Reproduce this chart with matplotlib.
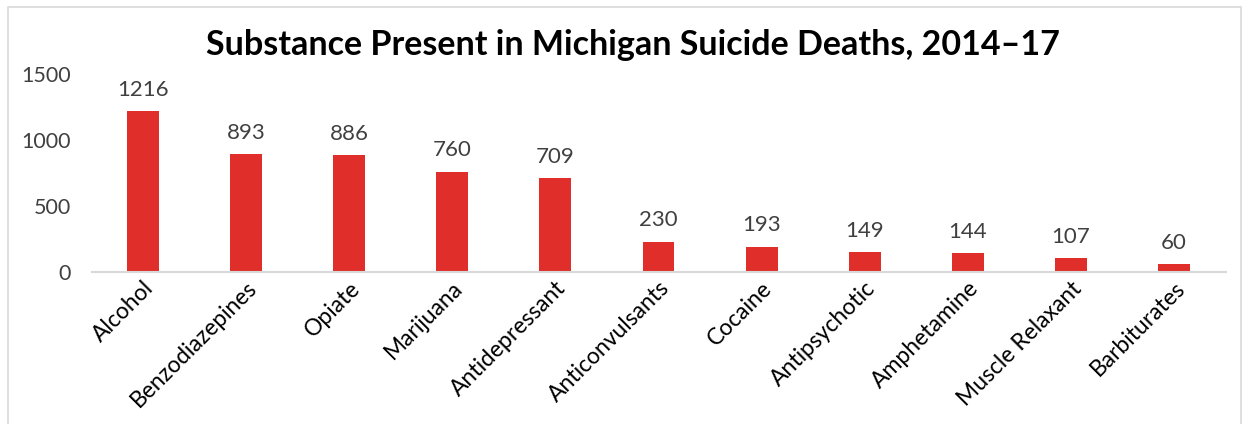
import matplotlib.pyplot as plt
from matplotlib.patches import Rectangle

substances = ['Alcohol', 'Benzodiazepines', 'Opiate', 'Marijuana', 'Antidepressant',
              'Anticonvulsants', 'Cocaine', 'Antipsychotic', 'Amphetamine',
              'Muscle Relaxant', 'Barbiturates']
deaths = [1216, 893, 886, 760, 709, 230, 193, 149, 144, 107, 60]
yticks = [0, 500, 1000, 1500]

plt.rcParams['font.family'] = ['Lato', 'DejaVu Sans']

fig = plt.figure(figsize=(12.5, 4.24), dpi=100)
ax = fig.add_axes([0.0732, 0.3585, 0.9072, 0.467])

x = range(len(substances))
bars = ax.bar(x, deaths, width=0.31, color='#E02E2A', zorder=2)
for xi, v in zip(x, deaths):
    ax.text(xi, v + 85, str(v), ha='center', va='bottom', fontsize=16, color='#404040')

ax.set_xlim(-0.5, len(substances) - 0.5)
ax.set_ylim(0, 1500)
ax.set_yticks(yticks)
ax.set_yticklabels([str(t) for t in yticks], fontsize=15.5, color='#404040')
ax.set_xticks(list(x))
ax.set_xticklabels(substances, rotation=45, ha='right', rotation_mode='anchor',
                   fontsize=16.5, color='#000000')
ax.tick_params(axis='both', length=0)
ax.tick_params(axis='y', pad=15)
ax.tick_params(axis='x', pad=4)
for s in ['top', 'right', 'left']:
    ax.spines[s].set_visible(False)
ax.spines['bottom'].set_color('#D9D9D9')
ax.spines['bottom'].set_linewidth(1.5)

fig.text(0.506, 0.893, 'Substance Present in Michigan Suicide Deaths, 2014\u201317',
         ha='center', va='center', fontsize=24.5, fontweight='bold', color='#000000')

fig.patches.append(Rectangle((0.006, -0.01), 0.987, 0.994, transform=fig.transFigure,
                             fill=False, edgecolor='#D9D9D9', linewidth=1.2))

fig.savefig('out.png', dpi=100)
